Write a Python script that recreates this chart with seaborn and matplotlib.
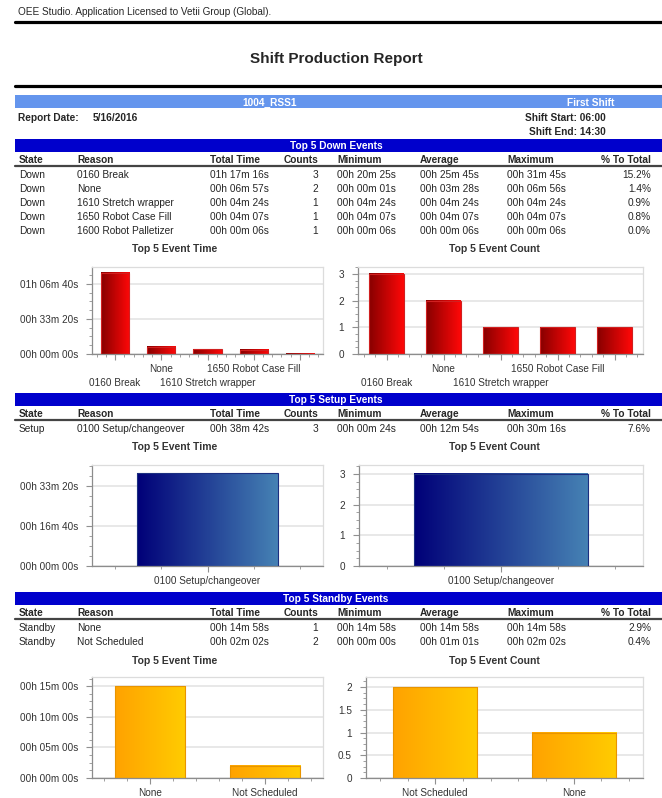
import numpy as np
import pandas as pd
import matplotlib
matplotlib.use("Agg")
import matplotlib.pyplot as plt
from matplotlib.patches import Rectangle
from matplotlib.lines import Line2D
from matplotlib.colors import LinearSegmentedColormap
from matplotlib.ticker import MultipleLocator, AutoMinorLocator, FuncFormatter
import seaborn as sns

# report header
note = "OEE Studio. Application Licensed to Vetii Group (Global)."
report_title = "Shift Production Report"
line_name = "1004_RSS1"
shift_name = "First Shift"
report_date = "5/16/2016"
shift_start = "06:00"
shift_end = "14:30"

columns = ["State", "Reason", "Total Time", "Counts", "Minimum", "Average", "Maximum", "% To Total"]

# down events
down_state = ["Down", "Down", "Down", "Down", "Down"]
down_reason = ["0160 Break", "None", "1610 Stretch wrapper", "1650 Robot Case Fill", "1600 Robot Palletizer"]
down_total = ["01h 17m 16s", "00h 06m 57s", "00h 04m 24s", "00h 04m 07s", "00h 00m 06s"]
down_counts = [3, 2, 1, 1, 1]
down_min = ["00h 20m 25s", "00h 00m 01s", "00h 04m 24s", "00h 04m 07s", "00h 00m 06s"]
down_avg = ["00h 25m 45s", "00h 03m 28s", "00h 04m 24s", "00h 04m 07s", "00h 00m 06s"]
down_max = ["00h 31m 45s", "00h 06m 56s", "00h 04m 24s", "00h 04m 07s", "00h 00m 06s"]
down_pct = ["15.2%", "1.4%", "0.9%", "0.8%", "0.0%"]

# setup events
setup_state = ["Setup"]
setup_reason = ["0100 Setup/changeover"]
setup_total = ["00h 38m 42s"]
setup_counts = [3]
setup_min = ["00h 00m 24s"]
setup_avg = ["00h 12m 54s"]
setup_max = ["00h 30m 16s"]
setup_pct = ["7.6%"]

# standby events
standby_state = ["Standby", "Standby"]
standby_reason = ["None", "Not Scheduled"]
standby_total = ["00h 14m 58s", "00h 02m 02s"]
standby_counts = [1, 2]
standby_min = ["00h 14m 58s", "00h 00m 00s"]
standby_avg = ["00h 14m 58s", "00h 01m 01s"]
standby_max = ["00h 14m 58s", "00h 02m 02s"]
standby_pct = ["2.9%", "0.4%"]

W, H = 662, 798
sns.set_style("white")
plt.rcParams["font.family"] = ["Liberation Sans", "DejaVu Sans"]

fig = plt.figure(figsize=(W / 100, H / 100), dpi=100)


def T(x, y, s, **kw):
    kw.setdefault("va", "center_baseline")
    kw.setdefault("fontsize", 7.3)
    fig.text(x / W, 1 - y / H, s, **kw)


def band(y0, y1, color, x0=15, x1=662):
    fig.add_artist(Rectangle((x0 / W, 1 - y1 / H), (x1 - x0) / W, (y1 - y0) / H,
                             transform=fig.transFigure, color=color, lw=0, zorder=0))


def hline(y, lw, color, x0=15, x1=662):
    fig.add_artist(Line2D([x0 / W, x1 / W], [1 - y / H, 1 - y / H], lw=lw, color=color,
                          transform=fig.transFigure))


def to_sec(t):
    h, m, s = [int(p[:-1]) for p in t.split()]
    return h * 3600 + m * 60 + s


def hms(v, pos=None):
    s = int(round(v))
    return f"{s // 3600:02d}h {(s % 3600) // 60:02d}m {s % 60:02d}s"


def count_fmt(v, pos=None):
    return f"{v:g}"


def table(yb, title, state, reason, total, counts, mn, avg, mx, pct):
    band(yb - 6.5, yb + 6.5, "#0000cc")
    T(336, yb, title, ha="center", color="white", fontweight="bold")
    hy = yb + 14
    xs = [19, 77, 210, 318, 337, 420, 507, 651]
    al = ["left", "left", "left", "right", "left", "left", "left", "right"]
    for c, x, a in zip(columns, xs, al):
        T(x, hy, c, ha=a, fontweight="bold")
    hline(yb + 21, 1.6, "#444444")
    for i in range(len(state)):
        y = yb + 29 + 14 * i
        vals = [state[i], reason[i], total[i], str(counts[i]), mn[i], avg[i], mx[i], pct[i]]
        for v, x, a in zip(vals, xs, al):
            T(x, y, v, ha=a)


def chart(box, labels, values, ymax, ticks, fmt, colors, edge, stagger=False):
    x0, y0, x1, y1 = box
    ax = fig.add_axes([x0 / W, 1 - y1 / H, (x1 - x0) / W, (y1 - y0) / H])
    df = pd.DataFrame({"reason": labels, "value": values})
    sns.barplot(data=df, x="reason", y="value", order=labels, ax=ax, width=0.61,
                color=colors[0], saturation=1, errorbar=None)
    cmap = LinearSegmentedColormap.from_list("g", colors)
    grad = np.linspace(0, 1, 256).reshape(1, -1)
    for p in ax.patches:
        px, pw, ph = p.get_x(), p.get_width(), p.get_height()
        ax.imshow(grad, extent=[px, px + pw, 0, ph], aspect="auto", cmap=cmap, zorder=2)
        p.set_facecolor("none")
        p.set_edgecolor(edge)
        p.set_linewidth(0.8)
        p.set_zorder(3)
    ax.set_xlim(-0.5, len(labels) - 0.5)
    ax.set_ylim(0, ymax)
    ax.set_xlabel("")
    ax.set_ylabel("")
    ax.set_yticks(ticks)
    ax.yaxis.set_major_formatter(FuncFormatter(fmt))
    ax.yaxis.set_minor_locator(AutoMinorLocator(4))
    ax.xaxis.set_minor_locator(MultipleLocator(0.2))
    labs = list(labels)
    if stagger:
        # the last label is hidden in the original (no room for it)
        labs[-1] = ""
    ax.set_xticks(range(len(labels)))
    ax.set_xticklabels(labs)
    ax.tick_params(which="major", length=4, width=0.8, color="#909090",
                   labelsize=7.2, labelcolor="#333333")
    ax.tick_params(axis="y", which="major", pad=6)
    ax.tick_params(axis="x", which="major", pad=3)
    ax.tick_params(which="minor", length=2, width=0.7, color="#a0a0a0")
    ax.tick_params(which="both", bottom=True, left=True)
    if stagger:
        for i, tick in enumerate(ax.xaxis.get_major_ticks()):
            if i % 2 == 0:
                tick.set_pad(13)
    ax.grid(axis="y", which="major", color="#e6e6e6", lw=1.3)
    ax.set_axisbelow(True)
    for s in ["left", "bottom"]:
        ax.spines[s].set_color("#8c8c8c")
        ax.spines[s].set_linewidth(0.9)
    for s in ["top", "right"]:
        ax.spines[s].set_color("#dcdcdc")
        ax.spines[s].set_linewidth(0.9)
    return ax


# page header
T(18, 11, note, fontsize=7.2)
hline(22, 2.3, "black")
T(336, 57, report_title, ha="center", fontsize=11, fontweight="bold")
hline(86, 2.3, "black")
band(95, 108, "#6495ed")
T(270, 101.5, line_name, ha="center", color="white", fontweight="bold")
T(591, 101.5, shift_name, ha="center", color="white", fontweight="bold")
T(18, 117, "Report Date:", fontweight="bold")
T(93, 117, report_date, fontweight="bold")
T(606, 117, "Shift Start: " + shift_start, ha="right", fontweight="bold")
T(606, 131, "Shift End: " + shift_end, ha="right", fontweight="bold")

red = ["#870000", "#ff0808"]
blue = ["#000078", "#4682b4"]
orange = ["#ffa200", "#ffcc00"]


def draw_section(yb, title, state, reason, total, counts, mn, avg, mx, pct,
                 ytitle, left_box, right_box, tmax, tticks, cmax, cticks, colors, edge, stagger):
    table(yb, title, state, reason, total, counts, mn, avg, mx, pct)
    T(175, ytitle, "Top 5 Event Time", ha="center", fontsize=7.5, fontweight="bold", color="#333333")
    T(494, ytitle, "Top 5 Event Count", ha="center", fontsize=7.5, fontweight="bold", color="#333333")
    secs = [to_sec(t) for t in total]
    order_t = sorted(range(len(reason)), key=lambda i: -secs[i])
    chart(left_box, [reason[i] for i in order_t], [secs[i] for i in order_t],
          tmax, tticks, hms, colors, edge, stagger)
    order_c = sorted(range(len(reason)), key=lambda i: -counts[i])
    chart(right_box, [reason[i] for i in order_c], [counts[i] for i in order_c],
          cmax, cticks, count_fmt, colors, edge, stagger)


draw_section(145, "Top 5 Down Events", down_state, down_reason, down_total, down_counts,
             down_min, down_avg, down_max, down_pct, 248,
             (92, 267, 323, 354), (358, 267, 643, 354),
             4970, [0, 2000, 4000], 3.26, [0, 1, 2, 3], red, "#d02020", True)

draw_section(399, "Top 5 Setup Events", setup_state, setup_reason, setup_total, setup_counts,
             setup_min, setup_avg, setup_max, setup_pct, 446.5,
             (92, 465, 323, 566), (359, 465, 643, 566),
             2525, [0, 1000, 2000], 3.29, [0, 1, 2, 3], blue, "#1c2f80", False)

draw_section(598, "Top 5 Standby Events", standby_state, standby_reason, standby_total, standby_counts,
             standby_min, standby_avg, standby_max, standby_pct, 659.5,
             (92, 677, 323, 778), (366, 677, 643, 778),
             990, [0, 300, 600, 900], 2.22, [0, 0.5, 1, 1.5, 2], orange, "#e89400", False)

fig.savefig("out.png", dpi=100)
